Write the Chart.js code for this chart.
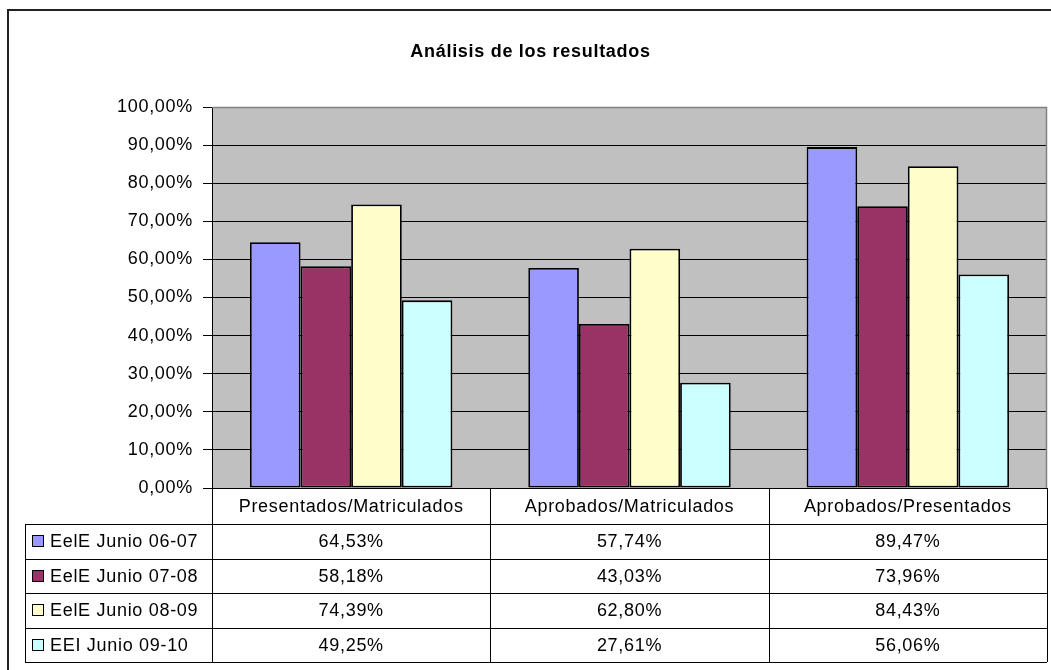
<!DOCTYPE html>
<html>
<head>
<meta charset="utf-8">
<script src="https://cdn.jsdelivr.net/npm/chart.js@4.4.1/dist/chart.umd.min.js"></script>
<style>
  body { margin: 0; background: #fff; }
  #wrap { width: 1051px; height: 670px; }
</style>
</head>
<body>
<div id="wrap"><canvas id="analisisChart" width="1051" height="670"></canvas></div>
<script>
// ---- data ----
const categories = ["Presentados/Matriculados", "Aprobados/Matriculados", "Aprobados/Presentados"];
const seriesNames = ["EelE Junio 06-07", "EelE Junio 07-08", "EelE Junio 08-09", "EEI Junio 09-10"];
const junio0607 = [64.53, 57.74, 89.47];
const junio0708 = [58.18, 43.03, 73.96];
const junio0809 = [74.39, 62.80, 84.43];
const junio0910 = [49.25, 27.61, 56.06];
const yTickLabels = ["0,00%", "10,00%", "20,00%", "30,00%", "40,00%", "50,00%",
                     "60,00%", "70,00%", "80,00%", "90,00%", "100,00%"];

const seriesValues = [junio0607, junio0708, junio0809, junio0910];
const colors = ["#9999FF", "#993366", "#FFFFCC", "#CCFFFF"];
const FONT = "'Liberation Sans', Arial, sans-serif";
const FONT_SIZE = 18;

Chart.defaults.font.family = FONT;
Chart.defaults.color = "#000";

const fmt = v => v.toFixed(2).replace(".", ",") + "%";

// grey plot area + outer frame
const frame = {
    id: "frame",
    beforeDraw(chart) {
        const ctx = chart.ctx, a = chart.chartArea;
        // Excel text here is a bit wider than Arial, spread it slightly
        ctx.letterSpacing = "0.7px";
        ctx.save();
        ctx.fillStyle = "#fff";
        ctx.fillRect(0, 0, chart.width, chart.height);
        ctx.strokeStyle = "#222";
        ctx.lineWidth = 2;
        ctx.strokeRect(8, 10, 1060, 700);
        ctx.fillStyle = "#C0C0C0";
        ctx.fillRect(a.left, a.top, a.right - a.left, a.bottom - a.top);
        ctx.restore();
    },
    afterDraw(chart) {
        const ctx = chart.ctx, a = chart.chartArea;
        ctx.save();
        ctx.strokeStyle = "#808080";
        ctx.lineWidth = 1.5;
        ctx.beginPath();
        ctx.moveTo(a.left, a.top + 0.5);
        ctx.lineTo(a.right - 0.5, a.top + 0.5);
        ctx.lineTo(a.right - 0.5, a.bottom);
        ctx.stroke();
        ctx.restore();
    }
};

// data table under the plot
const dataTable = {
    id: "dataTable",
    afterDraw(chart) {
        const ctx = chart.ctx, a = chart.chartArea;
        const colW = (a.right - a.left) / categories.length;
        const headBottom = a.bottom + 36;
        const tableBottom = 662;
        const legendLeft = 25;
        const rowH = (tableBottom - headBottom) / seriesNames.length;
        const px = v => Math.round(v) + 0.5;

        ctx.save();
        ctx.strokeStyle = "#000";
        ctx.lineWidth = 1;
        ctx.beginPath();
        // vertical lines
        for (let i = 0; i <= categories.length; i++) {
            const x = px(a.left + colW * i);
            ctx.moveTo(x, a.bottom);
            ctx.lineTo(x, tableBottom);
        }
        ctx.moveTo(px(legendLeft), px(headBottom));
        ctx.lineTo(px(legendLeft), px(tableBottom));
        // horizontal lines
        for (let r = 0; r <= seriesNames.length; r++) {
            const y = px(headBottom + rowH * r);
            ctx.moveTo(legendLeft, y);
            ctx.lineTo(a.right, y);
        }
        ctx.stroke();

        ctx.font = FONT_SIZE + "px " + FONT;
        ctx.fillStyle = "#000";
        ctx.textBaseline = "middle";
        ctx.textAlign = "center";
        categories.forEach((c, i) => {
            ctx.fillText(c, a.left + colW * (i + 0.5), (a.bottom + headBottom) / 2 + 1);
        });

        seriesNames.forEach((name, r) => {
            const cy = headBottom + rowH * (r + 0.5);
            // legend key
            ctx.fillStyle = colors[r];
            ctx.fillRect(32, Math.round(cy) - 5, 11, 11);
            ctx.strokeStyle = "#000";
            ctx.strokeRect(32.5, Math.round(cy) - 5.5, 11, 11);
            ctx.fillStyle = "#000";
            ctx.textAlign = "left";
            ctx.fillText(name, 50, cy + 1);
            ctx.textAlign = "center";
            seriesValues[r].forEach((v, i) => {
                ctx.fillText(fmt(v), a.left + colW * (i + 0.5), cy + 1);
            });
        });
        ctx.restore();
    }
};

new Chart(document.getElementById("analisisChart").getContext("2d"), {
    type: "bar",
    data: {
        labels: categories,
        datasets: seriesNames.map((name, i) => ({
            label: name,
            data: seriesValues[i],
            backgroundColor: colors[i],
            borderColor: "#000",
            borderWidth: 1.8,
            borderSkipped: false,
            categoryPercentage: 4 / 5.5,
            barPercentage: 1
        }))
    },
    options: {
        responsive: false,
        animation: false,
        layout: {
            padding: { top: 0, left: 14, right: 4, bottom: 182 }
        },
        plugins: {
            legend: { display: false },
            tooltip: { enabled: false },
            title: {
                display: true,
                text: "Análisis de los resultados",
                font: { size: FONT_SIZE, weight: "bold" },
                color: "#000",
                padding: { top: 41, bottom: 44.4 }
            }
        },
        scales: {
            x: { display: false },
            y: {
                min: 0,
                max: 100,
                afterFit: s => { s.width = 198; },
                ticks: {
                    stepSize: 10,
                    padding: 10,
                    font: { size: FONT_SIZE },
                    color: "#000",
                    callback: (v, i) => yTickLabels[i]
                },
                grid: {
                    color: c => c.tick && c.tick.value === 100 ? "#808080" : "#000",
                    tickColor: "#000",
                    tickLength: 9,
                    lineWidth: 1
                },
                border: { display: true, color: "#000", width: 1 }
            }
        }
    },
    plugins: [frame, dataTable]
});
</script>
</body>
</html>
